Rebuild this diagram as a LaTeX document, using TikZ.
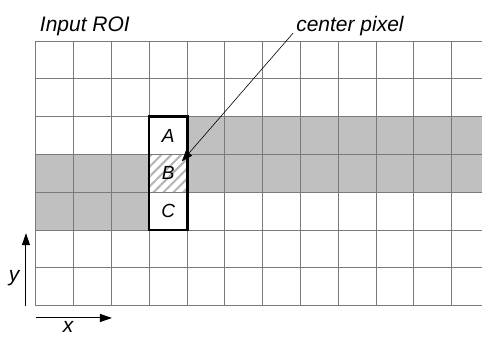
\documentclass[tikz,border=0pt]{standalone}
\usepackage{fontspec}
\setmainfont{Liberation Sans}
\usepackage{tikz}
\usetikzlibrary{arrows.meta,positioning,patterns.meta}
\definecolor{cellgray}{HTML}{C0C0C0}
\definecolor{gridline}{HTML}{7A7A7A}
\definecolor{hatch}{HTML}{B4B4B4}

\begin{document}
\begin{tikzpicture}[
    x=37.8pt, y=37.8pt,
    note/.style={font=\fontsize{21}{25}\selectfont\itshape, inner sep=0pt},
    cell/.style={minimum size=37.8pt, inner sep=0pt, font=\fontsize{19}{23}\selectfont\itshape},
    gridln/.style={draw=gridline, line width=1pt},
    pointer/.style={-{Triangle[length=11pt,width=8pt]}, line width=0.6pt, color=black},
    axis/.style={-{Triangle[length=12pt,width=8pt]}, line width=1pt, color=black}
]
\useasboundingbox (-0.952,-0.802) rectangle (11.799,8.087);
% shaded rows
\fill[cellgray] (4,4) rectangle (11.8,5);
\fill[cellgray] (0,3) rectangle (11.8,4);
\fill[cellgray] (0,2) rectangle (3,3);
% hatched center cell
\fill[white] (3,3) rectangle (4,4);
\fill[pattern={Lines[angle=45,distance=7pt,line width=2pt]}, pattern color=hatch] (3,3) rectangle (4,4);
% grid
\foreach \i in {0,...,11} \draw[gridln] (\i,0) -- (\i,7);
\foreach \j in {0,...,7} \draw[gridln] (0,\j) -- (11.8,\j);
% window
\node[cell] (A) at (3.5,4.5) {A};
\node[cell] (B) at (3.5,3.5) {B};
\node[cell] (C) at (3.5,2.5) {C};
\draw[line width=2.4pt] (A.north west) rectangle (C.south east);

% labels
\node[note, anchor=base west] (roi) at (0.1,7.25) {Input ROI};
\node[note, anchor=base west] (center) at (6.88,7.25) {center pixel};
\draw[pointer] ([shift={(-3pt,-1.5pt)}]center.base west) -- ([shift={(-5.5pt,-7pt)}]B.north east);

% axes
\coordinate (yfoot) at (-0.265,0);
\coordinate (yhead) at (-0.265,1.92);
\coordinate (xfoot) at (0,-0.325);
\coordinate (xhead) at (2.01,-0.325);
\draw[axis] (yfoot) -- (yhead);
\draw[axis] (xfoot) -- (xhead);
\node[note] (ylab) at (-0.58,0.72) {y};
\node[note] (xlab) at (0.847,-0.57) {x};
\end{tikzpicture}
\end{document}
